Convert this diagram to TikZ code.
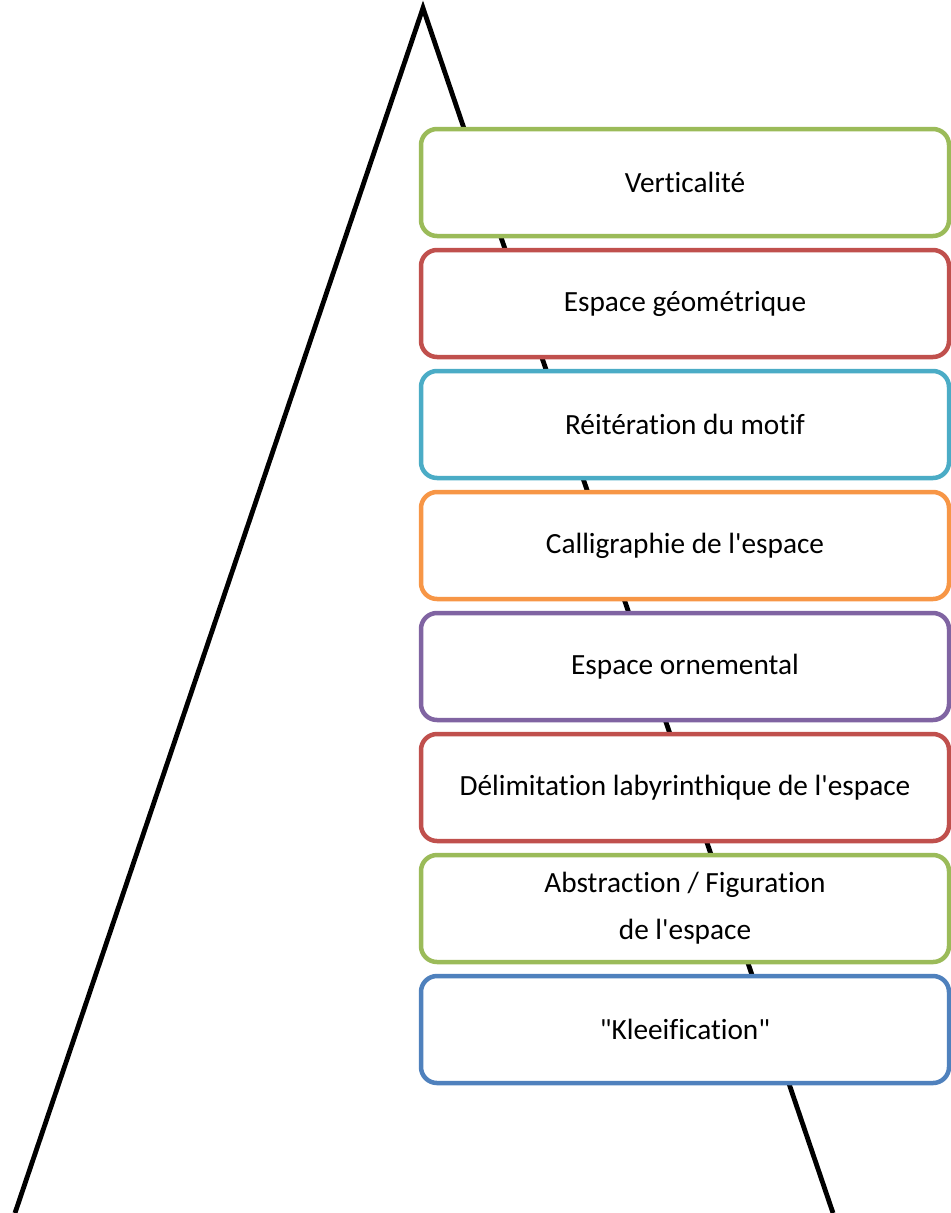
\documentclass[tikz,border=0pt]{standalone}
\usepackage{fontspec}
\setmainfont{Carlito}[Ligatures={ResetAll,NoCommon}]
\definecolor{cgreen}{HTML}{9BBB59}
\definecolor{cred}{HTML}{C0504D}
\definecolor{ccyan}{HTML}{4BACC6}
\definecolor{corange}{HTML}{F79646}
\definecolor{cpurple}{HTML}{8064A2}
\definecolor{cblue}{HTML}{4F81BD}
\tikzset{
  stepbox/.style={draw=#1, line width=4.5bp, rounded corners=16bp, fill=white,
    minimum width=528bp, minimum height=107bp, inner sep=0pt, align=center,
    font=\fontsize{29.3bp}{47bp}\selectfont},
  tri/.style={line width=4.8bp, black}
}
\begin{document}
\begin{tikzpicture}[x=1bp,y=-1bp]
\useasboundingbox (0,0) rectangle (951,1213);
\coordinate (apex) at (423,8);
\coordinate (bl) at (15,1213);
\coordinate (br) at (833,1213);
\draw[tri, line join=miter] (bl) -- (apex) -- (br);
\node[stepbox=cgreen]  (b1) at (685,182.5) {Verticalité};
\node[stepbox=cred]    (b2) at (685,303.5) {Espace géométrique};
\node[stepbox=ccyan]   (b3) at (685,424.5) {Réitération du motif};
\node[stepbox=corange] (b4) at (685,545.5) {Calligraphie de l\textquotesingle espace};
\node[stepbox=cpurple] (b5) at (685,666.5) {Espace ornemental};
\node[stepbox=cred]    (b6) at (685,787.5) {Délimitation labyrinthique de l\textquotesingle espace};
\node[stepbox=cgreen]  (b7) at (685,908.5) {Abstraction / Figuration\\de l\textquotesingle espace};
\node[stepbox=cblue]   (b8) at (685,1029.5) {\textquotedbl Kleeification\textquotedbl};
\end{tikzpicture}
\end{document}
